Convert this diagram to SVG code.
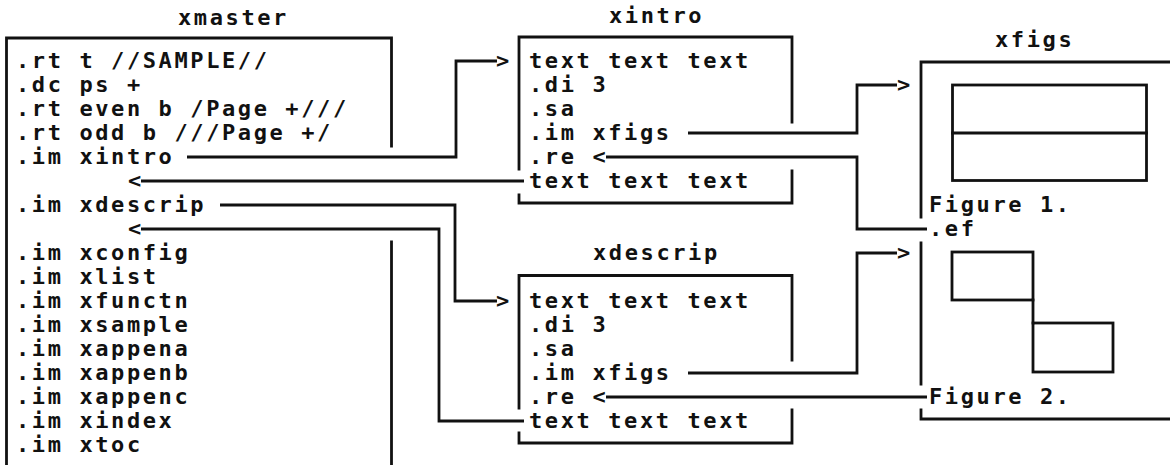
<svg xmlns="http://www.w3.org/2000/svg" width="1170" height="465" viewBox="0 0 1170 465">
<style>
text{font-family:"DejaVu Sans Mono","Liberation Mono",monospace;font-size:22px;font-weight:bold;letter-spacing:2.6px;fill:#111;}
text.a{letter-spacing:0;}
.e{fill:none;stroke:#111;stroke-width:2.8;stroke-linecap:square;}
.c{fill:none;stroke:#111;stroke-width:2.8;stroke-linecap:butt;}
</style>
<rect width="1170" height="465" fill="#fff"/>

<g id="xmaster">
<text x="178" y="25">xmaster</text>
<path class="e" d="M6.5,465 V38 H391.5 V146 M391.5,242 V465"/>
<text x="16" y="67.5">.rt t //SAMPLE//</text>
<text x="16" y="91.5">.dc ps +</text>
<text x="16" y="115.5">.rt even b /Page +///</text>
<text x="16" y="139.5">.rt odd b ///Page +/</text>
<text x="16" y="163.5">.im xintro</text>
<text x="16" y="211.5">.im xdescrip</text>
<text x="16" y="259.5">.im xconfig</text>
<text x="16" y="283.5">.im xlist</text>
<text x="16" y="307.5">.im xfunctn</text>
<text x="16" y="331.5">.im xsample</text>
<text x="16" y="355.5">.im xappena</text>
<text x="16" y="379.5">.im xappenb</text>
<text x="16" y="403.5">.im xappenc</text>
<text x="16" y="427.5">.im xindex</text>
<text x="16" y="451.5">.im xtoc</text>
</g>

<g id="xintro">
<text x="609" y="23">xintro</text>
<path class="e" d="M519,169 V37 H792 V122 M792,171 V203 H519 V195"/>
<text x="529" y="67.5">text text text</text>
<text x="529" y="91.5">.di 3</text>
<text x="529" y="115.5">.sa</text>
<text x="529" y="139.5">.im xfigs</text>
<text x="529" y="163.5">.re &lt;</text>
<text x="529" y="187.5">text text text</text>
</g>

<g id="xdescrip">
<text x="593" y="260">xdescrip</text>
<path class="e" d="M519,408 V275.5 H792 V360 M792,410 V443 H519 V433"/>
<text x="529" y="307.5">text text text</text>
<text x="529" y="331.5">.di 3</text>
<text x="529" y="355.5">.sa</text>
<text x="529" y="379.5">.im xfigs</text>
<text x="529" y="403.5">.re &lt;</text>
<text x="529" y="427.5">text text text</text>
</g>

<g id="xfigs">
<text x="995" y="47">xfigs</text>
<path class="e" d="M1172,62 H921 V217 M921,243 V384 M921,410 V419 H1172"/>
<rect class="e" x="952.5" y="85" width="194" height="95.5"/>
<line class="e" x1="952.5" y1="133" x2="1146.5" y2="133"/>
<text x="929" y="211.5">Figure 1.</text>
<text x="929" y="235.5">.ef</text>
<rect class="e" x="952" y="252" width="81" height="48"/>
<line class="e" x1="1033" y1="300" x2="1033" y2="323"/>
<rect class="e" x="1033" y="323" width="80" height="49"/>
<text x="929" y="403.5">Figure 2.</text>
</g>

<g id="connectors">
<path class="c" d="M187,157 H456 V61 H497"/>
<text class="a" x="496" y="67.5">&gt;</text>
<text class="a" x="128" y="187.5">&lt;</text>
<path class="c" d="M141,181 H524"/>
<path class="c" d="M220,205 H455 V301 H497"/>
<text class="a" x="496" y="307.5">&gt;</text>
<text class="a" x="128" y="235.5">&lt;</text>
<path class="c" d="M141,229 H439 V421 H524"/>
<path class="c" d="M688,133 H857 V85 H897"/>
<text class="a" x="897" y="91.5">&gt;</text>
<path class="c" d="M927,229 H857 V157 H606"/>
<path class="c" d="M688,373 H857 V253 H897"/>
<text class="a" x="897" y="259.5">&gt;</text>
<path class="c" d="M927,397 H606"/>
</g>
</svg>
